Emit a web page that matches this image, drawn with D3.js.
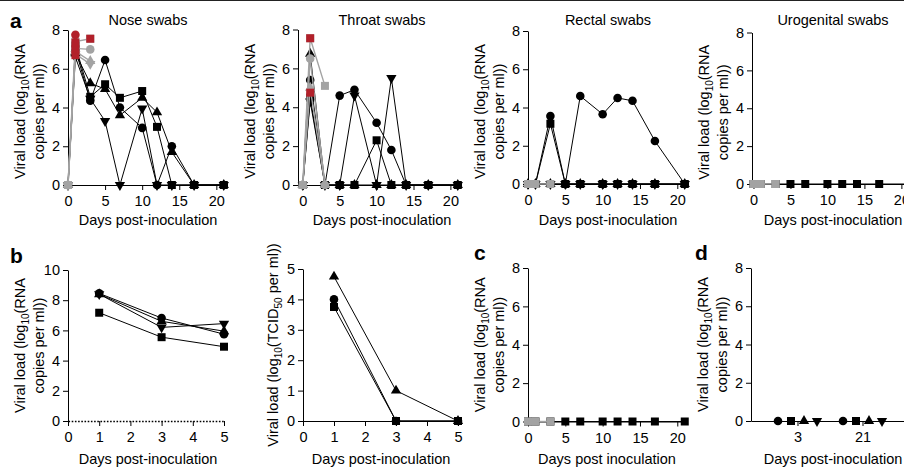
<!DOCTYPE html>
<html>
<head>
<meta charset="utf-8">
<script src="https://d3js.org/d3.v7.min.js"></script>
<style>
body { margin: 0; background: #fff; }
svg text { font-family: "Liberation Sans", Arial, Helvetica, sans-serif; fill: #000; }
</style>
</head>
<body>
<svg id="fig" width="904" height="467"></svg>
<script>

// ---- data ----

var swabDays = [0, 1, 3, 5, 7, 10, 12, 14, 17, 21]
var earlyDays = [0, 1, 3]
var dayTicks = [0, 5, 10, 15, 20]
var loadTicks = [0, 2, 4, 6, 8]

// black animals (followed to day 21), order = drawing order
var noseAnimals = [
	{shape: "down",   values: [0, 6.6, 4.45, 3.3, 0, 3.95, 0, 0, 0, 0]},
	{shape: "up",     values: [0, 6.8, 5.25, 4.95, 3.6, 4.5, 3.75, 1.7, 0, 0]},
	{shape: "circle", values: [0, 7.0, 4.35, 6.45, 4.0, 2.95, 0, 2.0, 0, 0]},
	{shape: "square", values: [0, 7.2, 4.55, 5.2, 4.5, 4.85, 3.0, 0, 0, 0]}
]
var throatAnimals = [
	{shape: "down",   values: [0, 4.3, 0, 0, 4.6, 0, 5.5, 0, 0, 0]},
	{shape: "up",     values: [0, 6.75, 0, 0, 0, 0, 0, 0, 0, 0]},
	{shape: "circle", values: [0, 5.4, 0, 4.6, 4.9, 3.2, 1.8, 0, 0, 0]},
	{shape: "square", values: [0, 4.5, 0, 0, 0, 2.3, 0, 0, 0, 0]}
]
var rectalAnimals = [
	{shape: "down",   values: [0, 0, 0, 0, 0, 0, 0, 0, 0, 0]},
	{shape: "up",     values: [0, 0, 0, 0, 0, 0, 0, 0, 0, 0]},
	{shape: "circle", values: [0, 0, 3.55, 0, 4.6, 3.65, 4.5, 4.35, 2.25, 0]},
	{shape: "square", values: [0, 0, 3.15, 0, 0, 0, 0, 0, 0, 0]}
]
var urogenitalAnimals = [
	{shape: "square", values: [0, 0, 0, 0, 0, 0, 0, 0, 0, 0]}
]
var contactAnimals = [
	{shape: "square", values: [0, 0, 0, 0, 0, 0, 0, 0, 0, 0]}
]

// grey animals (sampled to day 3)
var noseEarly = [
	{shape: "circle", values: [0, 7.05, 7.0]},
	{shape: "up",     values: [0, 6.9, 6.4]},
	{shape: "down",   values: [0, 6.75, 6.25]},
	{shape: "square", values: [0, 7.4, 7.55]}
]
var throatEarly = [
	{shape: "up",     values: [0, 5.0, 0]},
	{shape: "circle", values: [0, 6.5, 0]},
	{shape: "square", values: [0, 7.55, 5.1]}
]
var rectalEarly = [{shape: "square", values: [0, 0, 0]}]
var urogenitalEarly = [{shape: "square", values: [0, 0, 0]}]
var contactEarly = [{shape: "square", values: [0, 0, 0]}]

// readings highlighted in red
var noseRed = [
	{day: 1, value: 6.7,  shape: "square"},
	{day: 1, value: 7.0,  shape: "square"},
	{day: 1, value: 7.35, shape: "square"},
	{day: 1, value: 7.75, shape: "circle"},
	{day: 3, value: 7.55, shape: "square"}
]
var throatRed = [
	{day: 1, value: 4.75, shape: "square"},
	{day: 1, value: 7.55, shape: "square"}
]

// panel b
var bDays = [1, 3, 5]
var bDayTicks = [0, 1, 2, 3, 4, 5]
var bRnaTicks = [0, 2, 4, 6, 8, 10]
var bTcidTicks = [0, 1, 2, 3, 4, 5]
var bRna = [
	{shape: "down",   values: [8.4, 6.2, 6.45]},
	{shape: "up",     values: [8.4, 6.6, 5.95]},
	{shape: "circle", values: [8.45, 6.82, 5.75]},
	{shape: "square", values: [7.17, 5.55, 4.92]}
]
var bTcid = [
	{shape: "up",     values: [4.75, 1.0, 0]},
	{shape: "circle", values: [4.0, 0, 0]},
	{shape: "square", values: [3.75, 0, 0]}
]

// panel d
var dGroups = ["3", "21"]
var dShapes = ["circle", "square", "up", "down"]
var dValues = [[0, 0, 0, 0], [0, 0, 0, 0]]

// ---- drawing ----

var svg = d3.select("#fig")

var black = "#000", grey = "#a3a3a3", red = "#b2202a"

var symbols = {circle: d3.symbolCircle, square: d3.symbolSquare, up: d3.symbolTriangle, down: d3.symbolTriangle}
var sizes = {circle: 58, square: 64, up: 46, down: 46}

var rnaLabel = [[["Viral load (log"], ["10", true], ["(RNA"]], [["copies per ml))"]]]
var tcidLabel = [[["Viral load (log"], ["10", true], ["(TCID"], ["50", true], [" per ml))"]]]

svg.append("line")
	.attr("x1", 0).attr("x2", 904)
	.attr("y1", 0.5).attr("y2", 0.5)
	.attr("stroke", "#222")

function marker(layer, cx, cy, shape, color) {
	layer.append("path")
		.attr("d", d3.symbol().type(symbols[shape]).size(sizes[shape])())
		.attr("fill", color)
		.attr("transform", `translate(${cx},${cy})` + (shape == "down" ? " rotate(180)" : ""))
}

function frame(o) {

	var g = svg.append("g")

	var x = o.x
	var y = d3.scaleLinear().domain(o.yDomain).range(o.yRange)

	var axisX = x.range()[0]
	var axisY = y.range()[0]

	var xAxis = d3.axisBottom(x).tickValues(o.xTicks).tickSize(5).tickSizeOuter(0).tickPadding(6)
	if (x.ticks) xAxis.tickFormat(d3.format("d"))

	var xg = g.append("g")
		.attr("transform", `translate(0,${axisY})`)
		.call(xAxis)

	var yg = g.append("g")
		.attr("transform", `translate(${axisX},0)`)
		.call(d3.axisLeft(y).tickValues(o.yTicks).tickFormat(d3.format("d")).tickSize(5).tickSizeOuter(0).tickPadding(3))

	xg.attr("font-size", 14.5).attr("font-family", null)
	yg.attr("font-size", 14.5).attr("font-family", null)
	g.selectAll(".domain, .tick line").attr("stroke", black).attr("stroke-width", 1)

	if (o.dotted) {
		xg.select(".domain").attr("stroke-dasharray", "1.6,1.6").attr("stroke-width", 1.6)
	}

	if (o.title) {
		g.append("text").attr("x", o.titleX).attr("y", 25)
			.attr("text-anchor", "middle").attr("font-size", 14.5).text(o.title)
	}

	g.append("text").attr("x", o.titleX).attr("y", o.xlabelY)
		.attr("text-anchor", "middle").attr("font-size", 14.5).text(o.xlabel)

	var cy = (o.yRange[0] + o.yRange[1]) / 2 + (o.labelShift || 0)

	o.ylabel.forEach(function(parts, i) {
		var t = g.append("text")
			.attr("transform", `translate(${axisX - o.labelOffsets[i]},${cy}) rotate(-90)`)
			.attr("text-anchor", "middle")
			.attr("font-size", 14.5)
		var shifted = false
		parts.forEach(function(p) {
			var s = t.append("tspan").text(p[0])
			if (p[1]) {
				s.attr("font-size", 10).attr("dy", 3.5)
				shifted = true
			} else if (shifted) {
				s.attr("dy", -3.5)
				shifted = false
			}
		})
	})

	if (o.letter) {
		svg.append("text").attr("x", o.letter[1]).attr("y", o.letter[2])
			.attr("font-size", 21).attr("font-weight", "bold").text(o.letter[0])
	}

	return {g: g, x: x, y: y}
}

function plot(p, days, animals, lineColor, markColor, lineWidth) {

	var line = d3.line().x(d => p.x(d[0])).y(d => p.y(d[1]))

	var lines = p.g.append("g")
	var marks = p.g.append("g")

	animals.forEach(function(a) {
		var pts = days.map((d, i) => [d, a.values[i]])
		lines.append("path")
			.attr("d", line(pts))
			.attr("fill", "none")
			.attr("stroke", lineColor)
			.attr("stroke-width", lineWidth)
	})

	animals.forEach(function(a) {
		days.forEach(function(d, i) {
			marker(marks, p.x(d), p.y(a.values[i]), a.shape, markColor)
		})
	})
}

function highlight(p, points) {
	var marks = p.g.append("g")
	points.forEach(function(d) {
		marker(marks, p.x(d.day), p.y(d.value), d.shape, red)
	})
}

function swabPanel(o, animals, early, reds) {
	var p = frame(o)
	plot(p, swabDays, animals, black, black, 1)
	plot(p, earlyDays, early, grey, grey, 1.4)
	if (reds) highlight(p, reds)
	return p
}

var topY = 225

swabPanel({
	x: d3.scaleLinear().domain([0, 21.3]).range([68, 226]),
	xTicks: dayTicks, yDomain: [0, 8], yRange: [185, 30], yTicks: loadTicks,
	title: "Nose swabs", titleX: 148, xlabel: "Days post-inoculation", xlabelY: topY,
	ylabel: rnaLabel, labelOffsets: [43, 24], labelShift: 4, letter: ["a", 10, 28]
}, noseAnimals, noseEarly, noseRed)

swabPanel({
	x: d3.scaleLinear().domain([-0.65, 21.3]).range([298, 460]),
	xTicks: dayTicks, yDomain: [0, 8], yRange: [185, 29.5], yTicks: loadTicks,
	title: "Throat swabs", titleX: 382, xlabel: "Days post-inoculation", xlabelY: topY,
	ylabel: rnaLabel, labelOffsets: [43, 24], labelShift: 4
}, throatAnimals, throatEarly, throatRed)

swabPanel({
	x: d3.scaleLinear().domain([0, 21.3]).range([528, 687]),
	xTicks: dayTicks, yDomain: [0, 8], yRange: [184, 31], yTicks: loadTicks,
	title: "Rectal swabs", titleX: 608, xlabel: "Days post-inoculation", xlabelY: topY,
	ylabel: rnaLabel, labelOffsets: [43, 24], labelShift: 4
}, rectalAnimals, rectalEarly)

swabPanel({
	x: d3.scaleLinear().domain([-0.2, 21.3]).range([752, 911]),
	xTicks: dayTicks, yDomain: [0, 8], yRange: [184, 32.5], yTicks: loadTicks,
	title: "Urogenital swabs", titleX: 833, xlabel: "Days post-inoculation", xlabelY: topY,
	ylabel: rnaLabel, labelOffsets: [43, 24], labelShift: 4
}, urogenitalAnimals, urogenitalEarly)

// b: RNA
var bl = frame({
	x: d3.scaleLinear().domain([0, 5]).range([68, 224]),
	xTicks: bDayTicks, yDomain: [0, 10], yRange: [421, 270], yTicks: bRnaTicks,
	titleX: 148, xlabel: "Days post-inoculation", xlabelY: 464, dotted: true,
	ylabel: rnaLabel, labelOffsets: [43, 24], letter: ["b", 10, 263]
})
plot(bl, bDays, bRna, black, black, 1)

// b: TCID50
var br = frame({
	x: d3.scaleLinear().domain([0, 5]).range([303, 458]),
	xTicks: bDayTicks, yDomain: [0, 5], yRange: [421, 269], yTicks: bTcidTicks,
	titleX: 381, xlabel: "Days post-inoculation", xlabelY: 464,
	ylabel: tcidLabel, labelOffsets: [25]
})
plot(br, bDays, bTcid, black, black, 1)

// c
swabPanel({
	x: d3.scaleLinear().domain([0, 21.3]).range([528, 687]),
	xTicks: dayTicks, yDomain: [0, 8], yRange: [421.5, 268], yTicks: loadTicks,
	titleX: 607, xlabel: "Days post inoculation", xlabelY: 464,
	ylabel: rnaLabel, labelOffsets: [43, 24], letter: ["c", 474, 260]
}, contactAnimals, contactEarly)

// d
var dx = d3.scaleBand().domain(dGroups).range([751, 910]).paddingOuter(0.223).paddingInner(0)
var dp = frame({
	x: dx, xTicks: dGroups, yDomain: [0, 8], yRange: [421, 268], yTicks: loadTicks,
	titleX: 833, xlabel: "Days post-inoculation", xlabelY: 464,
	ylabel: rnaLabel, labelOffsets: [43, 24], letter: ["d", 695, 260]
})
var inner = d3.scalePoint().domain(dShapes).range([-20, 19])
var dMarks = dp.g.append("g")
dGroups.forEach(function(grp, gi) {
	dShapes.forEach(function(s, si) {
		marker(dMarks, dx(grp) + dx.bandwidth() / 2 + inner(s), dp.y(dValues[gi][si]), s, black)
	})
})

</script>
</body>
</html>
